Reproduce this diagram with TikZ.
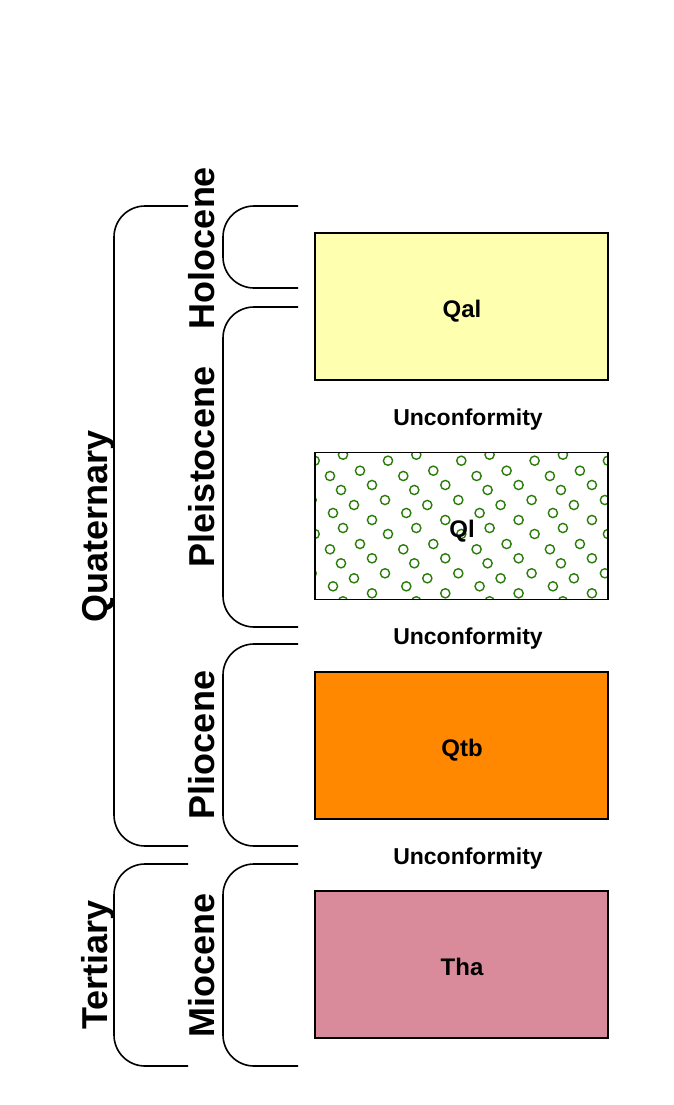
\documentclass[tikz,border=0pt]{standalone}
\usepackage{fontspec}
\setmainfont{Liberation Sans}
\definecolor{qalc}{HTML}{FFFFB0}
\definecolor{qtbc}{HTML}{FF8800}
\definecolor{thac}{HTML}{D98B9C}
\definecolor{dotc}{HTML}{2A7D0A}
\begin{document}
\begin{tikzpicture}[x=1pt,y=-1pt,
  bracket/.style={line width=1.6pt, rounded corners=31pt},
  unitbox/.style={draw, line width=1.6pt, minimum width=293pt, minimum height=147pt, inner sep=0pt},
  unitlabel/.style={font=\fontsize{24}{28}\selectfont\bfseries, anchor=base, inner sep=0pt},
  period/.style={font=\fontsize{36}{40}\selectfont\bfseries, rotate=90, anchor=base, inner sep=0pt},
  uncon/.style={font=\fontsize{23}{27}\selectfont\bfseries, anchor=base, inner sep=0pt},
  dot/.style={draw=dotc, line width=1.4pt}]
\useasboundingbox (0,0) rectangle (673,1105);
% brackets
\draw[bracket] (188,206) -- (114,206) -- (114,846) -- (188,846);
\draw[bracket] (188,864) -- (114,864) -- (114,1066) -- (188,1066);
\draw[bracket] (298,206) -- (223,206) -- (223,288) -- (298,288);
\draw[bracket] (298,307) -- (223,307) -- (223,627) -- (298,627);
\draw[bracket] (298,644) -- (223,644) -- (223,846) -- (298,846);
\draw[bracket] (298,864) -- (223,864) -- (223,1066) -- (298,1066);
% labels
\node[period] (quat) at (107,526) {Quaternary};
\node[period] (tert) at (107,965) {Tertiary};
\node[period] (holo) at (214,248) {Holocene};
\node[period] (pleis) at (214,467) {Pleistocene};
\node[period] (plio) at (214,745) {Pliocene};
\node[period] (mio) at (214,965) {Miocene};
% pattern for Ql
\begin{scope}
\clip (315,453) rectangle (608,599);
\foreach \i in {-1,...,4}{
  \foreach \j in {-1,...,2}{
    \foreach \dx/\dy in {0/0, 11/14, 30/68, 42/9, 58/58, 24/29, 55/24, 3/37, 13/52, 42/44}{
      \draw[dot] (330+73.3*\i+\dx, 476+73.3*\j+\dy) circle[radius=4.6pt];
    }
  }
}
\end{scope}
% units
\node[unitbox, fill=qalc] (qal) at (461.5,306.5) {};
\node[unitbox] (ql) at (461.5,526) {};
\node[unitbox, fill=qtbc] (qtb) at (461.5,745.5) {};
\node[unitbox, fill=thac] (tha) at (461.5,964.5) {};
\node[unitlabel] (qallab) at (462,317) {Qal};
\node[unitlabel] (qllab) at (462,537) {Ql};
\node[unitlabel] (qtblab) at (462,756) {Qtb};
\node[unitlabel] (thalab) at (462,975) {Tha};
% unconformities
\node[uncon] (u1) at (468,425) {Unconformity};
\node[uncon] (u2) at (468,644) {Unconformity};
\node[uncon] (u3) at (468,864) {Unconformity};
\end{tikzpicture}
\end{document}
